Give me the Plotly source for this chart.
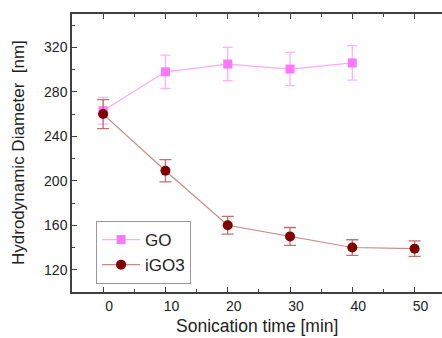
import plotly.graph_objects as go

time_go = [0, 10, 20, 30, 40]
diam_go = [263, 298, 305, 300.5, 306]
err_go = [12, 15, 15, 15, 15.5]

time_igo3 = [0, 10, 20, 30, 40, 50]
diam_igo3 = [260, 209, 160, 150, 140, 139]
err_igo3 = [13, 10, 8, 8, 7, 7]

x_ticks = [0, 10, 20, 30, 40, 50]
y_ticks = [120, 160, 200, 240, 280, 320]

FONT = "Liberation Sans, Arial, sans-serif"
AX = "#404040"
TXT = "#222222"

fig = go.Figure()
fig.add_trace(go.Scatter(
    x=time_go, y=diam_go, name="GO", mode="lines+markers",
    line=dict(color="#FFA8FF", width=1.2),
    marker=dict(symbol="square", size=9, color="#FF77FF"),
    error_y=dict(type="data", array=err_go, color="#FFB0FF", thickness=1.3, width=5),
))
fig.add_trace(go.Scatter(
    x=time_igo3, y=diam_igo3, name="iGO3", mode="lines+markers",
    line=dict(color="#C88888", width=1.2),
    marker=dict(symbol="circle", size=10, color="#800000"),
    error_y=dict(type="data", array=err_igo3, color="#C07070", thickness=1.3, width=6),
))

fig.update_layout(
    width=442, height=338,
    margin=dict(l=72, r=0, t=14, b=46, autoexpand=False),
    plot_bgcolor="white", paper_bgcolor="white",
    font=dict(family=FONT, color=TXT),
    showlegend=True,
    legend=dict(
        x=0.065, y=(292 - 221) / 278, xanchor="left", yanchor="top",
        bordercolor="#999999", borderwidth=1, bgcolor="white",
        font=dict(size=17, family=FONT, color=TXT),
        tracegroupgap=0, itemwidth=38,
    ),
    annotations=[
        dict(text="Sonication time [min]", xref="paper", yref="paper",
             x=0.5, y=-(338 - 292) / 278, xanchor="center", yanchor="bottom",
             showarrow=False, font=dict(size=17.5, family=FONT, color=TXT)),
        dict(text="Hydrodynamic Diameter  [nm]", xref="paper", yref="paper",
             x=-(72 - 18) / 370, y=0.5, xanchor="center", yanchor="middle",
             textangle=-90, showarrow=False, font=dict(size=17, family=FONT, color=TXT)),
    ],
)
fig.update_xaxes(
    range=[-5, 54.4], tickvals=x_ticks, ticktext=[str(v) for v in x_ticks],
    automargin=False,
    showgrid=False, zeroline=False,
    showline=True, linecolor=AX, linewidth=1.5, mirror="ticks",
    ticks="inside", ticklen=5, tickcolor=AX, tickwidth=1.3,
    minor=dict(ticks="inside", dtick=5, tick0=0, ticklen=3, tickcolor=AX, tickwidth=1),
    tickfont=dict(size=14, family=FONT, color=TXT),
    ticklabelshift=6,
)
fig.update_yaxes(
    range=[100, 350], tickvals=y_ticks, ticktext=[str(v) for v in y_ticks],
    automargin=False,
    showgrid=False, zeroline=False,
    showline=True, linecolor=AX, linewidth=1.5, mirror=False,
    ticks="inside", ticklen=5, tickcolor=AX, tickwidth=1.3,
    minor=dict(ticks="inside", dtick=20, tick0=0, ticklen=3, tickcolor=AX, tickwidth=1),
    tickfont=dict(size=14, family=FONT, color=TXT),
)

fig.write_html("out.html", config={"displayModeBar": False},
               post_script="document.body.style.margin='0';")
